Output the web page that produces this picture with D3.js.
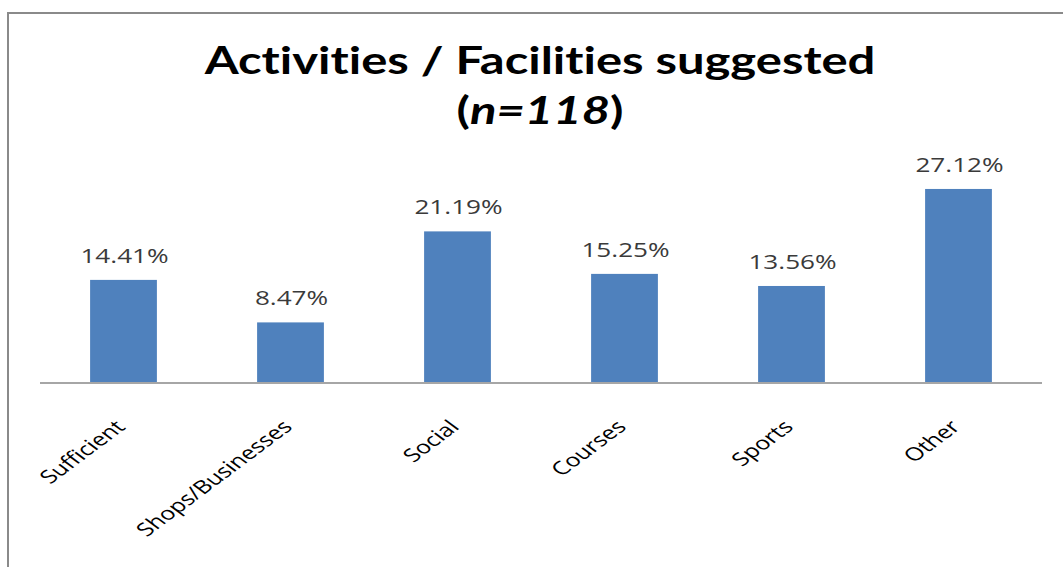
<!DOCTYPE html>
<html>
<head>
<meta charset="utf-8">
<script src="https://cdn.jsdelivr.net/npm/d3@7/dist/d3.min.js"></script>
<style>
  html, body { margin: 0; padding: 0; background: #fff; }
  svg { display: block; }
  text { font-variant-ligatures: none; }
</style>
</head>
<body>
<svg id="chart" width="1063" height="567"></svg>
<script>
// Survey responses: activities / facilities suggested (percent of respondents)
const categories = ["Sufficient", "Shops/Businesses", "Social", "Courses", "Sports", "Other"];
const percentages = [14.41, 8.47, 21.19, 15.25, 13.56, 27.12];
const valueLabels = ["14.41%", "8.47%", "21.19%", "15.25%", "13.56%", "27.12%"];

const svg = d3.select("#chart");
const W = 1063, H = 567;
const stretch = 1.34;   // horizontal widening applied to axis and value text

// chart area frame (only top and left edges fall inside the page)
svg.append("rect")
  .attr("x", 8).attr("y", 13)
  .attr("width", W + 20).attr("height", H + 20)
  .attr("fill", "#fff")
  .attr("stroke", "#8a8a8a")
  .attr("stroke-width", 2);

// title, two lines, widened horizontally to span 671px
const titleG = svg.append("g");
const title = titleG.append("text")
  .attr("text-anchor", "middle")
  .attr("font-family", "Lato, 'Open Sans', sans-serif")
  .attr("font-weight", "bold")
  .attr("font-size", 39)
  .attr("fill", "#000");
const l1 = title.append("tspan").attr("x", 0).attr("y", 74).text("Activities / Facilities suggested");
const l2 = title.append("tspan").attr("x", 0).attr("y", 124);
l2.append("tspan").text("(");
l2.append("tspan").attr("font-style", "italic").text("n=118");
l2.append("tspan").text(")");
const titleScale = 671 / l1.node().getComputedTextLength();
titleG.attr("transform", `translate(540,0) scale(${titleScale},1)`);

const plot = { left: 40, right: 1042, top: 168, bottom: 383 };

const x = d3.scaleBand()
  .domain(categories)
  .range([plot.left, plot.right])
  .paddingInner(0.6)
  .paddingOuter(0.3);

const y = d3.scaleLinear()
  .domain([0, 30])
  .range([plot.bottom, plot.bottom - 30 * 7.155]);

// bars
svg.append("g").selectAll("rect")
  .data(categories)
  .join("rect")
  .attr("x", d => x(d))
  .attr("width", x.bandwidth())
  .attr("y", (d, i) => y(percentages[i]))
  .attr("height", (d, i) => y(0) - y(percentages[i]))
  .attr("fill", "#4f81bd");

// value labels above bars
svg.append("g").selectAll("text")
  .data(categories)
  .join("text")
  .attr("transform", (d, i) =>
    `translate(${x(d) + x.bandwidth() / 2 + 1},${y(percentages[i]) - 17}) scale(${stretch},1)`)
  .attr("text-anchor", "middle")
  .attr("font-family", "'Open Sans', sans-serif")
  .attr("font-size", 19.5)
  .attr("fill", "#3a3a3a")
  .text((d, i) => valueLabels[i]);

// category axis
const axis = svg.append("g")
  .attr("transform", `translate(0,${plot.bottom})`)
  .call(d3.axisBottom(x).tickSize(0).tickSizeOuter(0));
axis.select(".domain")
  .attr("stroke", "#a6a6a6")
  .attr("stroke-width", 2)
  .attr("d", `M${plot.left},0H${plot.right}`);
axis.selectAll(".tick text")
  .attr("font-family", "'Open Sans', sans-serif")
  .attr("font-size", 18.5)
  .attr("fill", "#000")
  .attr("text-anchor", "end")
  .attr("dy", null)
  .attr("x", 0)
  .attr("y", 0)
  .attr("transform", `translate(3,45) scale(${stretch},1) rotate(-45)`);
</script>
</body>
</html>
